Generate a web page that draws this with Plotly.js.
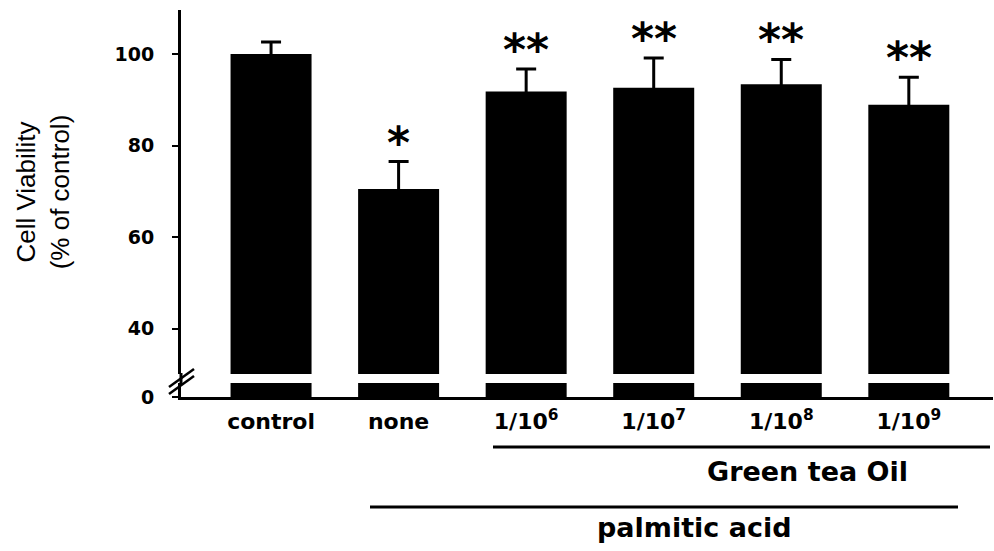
<!DOCTYPE html>
<html>
<head>
<meta charset="utf-8">
<script src="https://cdn.plot.ly/plotly-3.0.1.min.js"></script>
<style>html,body{margin:0;padding:0;background:#fff;}#chart{width:994px;height:551px;}</style>
</head>
<body>
<div id="chart"></div>
<script>
// ---- data ----
const categories = ['control', 'none', '1/10<sup>6</sup>', '1/10<sup>7</sup>', '1/10<sup>8</sup>', '1/10<sup>9</sup>'];
const viability = [100, 70.5, 91.8, 92.6, 93.4, 88.9];
const errorUp = [2.6, 6.0, 4.9, 6.5, 5.4, 6.0];
const significance = ['', '*', '**', '**', '**', '**'];
const upperTicks = [40, 60, 80, 100];
const lowerTicks = [0];
const groupLabels = ['Green tea Oil', 'palmitic acid'];

// ---- layout geometry (pixels of the 994x551 page) ----
const W = 994, H = 551;
const L = 181, R = 1, T = 10, B = 154;
const plotW = W - L - R, plotH = H - T - B;
const px = p => (p - L) / plotW;          // page x -> paper x
const py = p => (H - B - p) / plotH;      // page y -> paper y

const boldFont = 'DejaVu Sans, Verdana, sans-serif';
const barColor = '#000000';

const upperTrace = {
  type: 'bar', x: categories, y: viability, xaxis: 'x', yaxis: 'y2',
  marker: {color: barColor, line: {width: 0}}, width: 0.635,
  error_y: {type: 'data', array: errorUp, symmetric: true,
            color: '#000', thickness: 3, width: 10},
  hoverinfo: 'skip', showlegend: false
};
const lowerTrace = {
  type: 'bar', x: categories, y: viability, xaxis: 'x', yaxis: 'y',
  marker: {color: barColor, line: {width: 0}}, width: 0.635,
  hoverinfo: 'skip', showlegend: false
};

const annotations = categories.map((c, i) => ({
  x: c, y: viability[i] + errorUp[i], xref: 'x', yref: 'y2',
  text: significance[i], showarrow: false, yanchor: 'bottom', yshift: -8,
  font: {family: boldFont, size: 44, color: '#000', weight: 'bold'}
})).filter(a => a.text);

annotations.push({
  xref: 'paper', yref: 'paper', x: px(807), y: py(471), text: groupLabels[0],
  showarrow: false, xanchor: 'center', yanchor: 'middle',
  font: {family: boldFont, size: 27, color: '#000', weight: 'bold'}
});
annotations.push({
  xref: 'paper', yref: 'paper', x: px(694), y: py(527), text: groupLabels[1],
  showarrow: false, xanchor: 'center', yanchor: 'middle',
  font: {family: boldFont, size: 27, color: '#000', weight: 'bold'}
});

const lineStyle = {color: '#000', width: 3};
const shapes = [
  // group underline bars
  {type: 'line', xref: 'paper', yref: 'paper', x0: px(493), x1: px(990), y0: py(447), y1: py(447), line: lineStyle},
  {type: 'line', xref: 'paper', yref: 'paper', x0: px(370), x1: px(958), y0: py(507), y1: py(507), line: lineStyle},
  // axis line across the break
  {type: 'line', xref: 'paper', yref: 'paper', x0: 0, x1: 0, y0: py(384), y1: py(373), line: lineStyle},
  // break marks //
  {type: 'line', xref: 'paper', yref: 'paper', x0: px(169), x1: px(194), y0: py(387), y1: py(369), line: {color: '#000', width: 2.5}},
  {type: 'line', xref: 'paper', yref: 'paper', x0: px(169), x1: px(194), y0: py(394), y1: py(376), line: {color: '#000', width: 2.5}}
];

const layout = {
  width: W, height: H,
  margin: {l: L, r: R, t: T, b: B},
  paper_bgcolor: '#fff', plot_bgcolor: '#fff',
  barmode: 'overlay', bargap: 0.365,
  showlegend: false,
  xaxis: {
    anchor: 'y', range: [-0.706, 5.66], type: 'category',
    showline: true, linecolor: '#000', linewidth: 3, ticks: '', showgrid: false, zeroline: false,
    tickfont: {family: boldFont, size: 22, color: '#000', weight: 'bold'},
    ticklabelstandoff: 3
  },
  yaxis: {
    domain: [0, py(383)], range: [0, 3.06],
    tickmode: 'array', tickvals: lowerTicks, ticktext: lowerTicks.map(String),
    showline: true, linecolor: '#000', linewidth: 3, ticks: 'outside', ticklen: 6, tickwidth: 2, tickcolor: '#000',
    showgrid: false, zeroline: false,
    tickfont: {family: boldFont, size: 19, color: '#000', weight: 'bold'}, ticklabelstandoff: 14
  },
  yaxis2: {
    domain: [py(374), 1], range: [30.13, 109.6], anchor: 'x',
    tickmode: 'array', tickvals: upperTicks, ticktext: upperTicks.map(String),
    showline: true, linecolor: '#000', linewidth: 3, ticks: 'outside', ticklen: 6, tickwidth: 2, tickcolor: '#000',
    showgrid: false, zeroline: false,
    tickfont: {family: boldFont, size: 19, color: '#000', weight: 'bold'}, ticklabelstandoff: 14,
    title: {text: 'Cell Viability<br>(% of control)', standoff: 38,
            font: {family: 'Arial, Liberation Sans, sans-serif', size: 26, color: '#000'}}
  },
  annotations: annotations,
  shapes: shapes
};

Plotly.newPlot('chart', [upperTrace, lowerTrace], layout, {displayModeBar: false, staticPlot: true});
</script>
</body>
</html>
